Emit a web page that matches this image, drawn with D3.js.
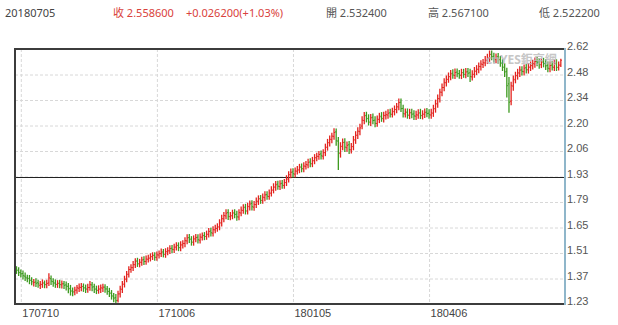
<!DOCTYPE html>
<html>
<head>
<meta charset="utf-8">
<script src="https://cdn.jsdelivr.net/npm/d3@7/dist/d3.min.js"></script>
<style>
  html, body { margin: 0; padding: 0; background: #fff; }
  svg { display: block; font-family: "Noto Sans", "Noto Sans CJK TC", sans-serif; }
</style>
</head>
<body>
<svg id="chart" width="618" height="325"></svg>
<script>
// header quote for the last day
const quoteDate = "20180705";
const quoteClose = "收 2.558600";
const quoteChange = "+0.026200(+1.03%)";
const quoteOpen = "開 2.532400";
const quoteHigh = "高 2.567100";
const quoteLow = "低 2.522200";

// x axis: bar index where each date label sits
const xTickIndex = [2, 65, 128, 191];
const xTickLabels = ["170710", "171006", "180105", "180406"];

// y axis
const yTickValues = [1.23, 1.369, 1.508, 1.647, 1.786, 1.925, 2.064, 2.203, 2.342, 2.481, 2.62];
const yTickLabels = ["1.23", "1.37", "1.51", "1.65", "1.79", "1.93", "2.06", "2.20", "2.34", "2.48", "2.62"];
const refLevel = 1.925;

// daily OHLC
const opens = [
  1.420, 1.413, 1.400, 1.396, 1.382, 1.372, 1.370, 1.358, 1.345, 1.350,
  1.346, 1.332, 1.336, 1.344, 1.335, 1.345, 1.368, 1.352, 1.344, 1.336,
  1.344, 1.334, 1.340, 1.334, 1.326, 1.315, 1.302, 1.296, 1.306, 1.316,
  1.320, 1.326, 1.318, 1.310, 1.320, 1.334, 1.324, 1.312, 1.304, 1.310,
  1.316, 1.322, 1.312, 1.298, 1.290, 1.270, 1.265, 1.250, 1.285, 1.310,
  1.338, 1.366, 1.392, 1.418, 1.428, 1.444, 1.465, 1.448, 1.456, 1.472,
  1.462, 1.474, 1.480, 1.488, 1.496, 1.484, 1.497, 1.504, 1.514, 1.500,
  1.515, 1.520, 1.534, 1.526, 1.540, 1.550, 1.536, 1.552, 1.560, 1.574,
  1.592, 1.584, 1.566, 1.584, 1.594, 1.578, 1.594, 1.604, 1.598, 1.610,
  1.628, 1.616, 1.634, 1.642, 1.650, 1.672, 1.694, 1.710, 1.728, 1.706,
  1.710, 1.728, 1.720, 1.704, 1.726, 1.740, 1.758, 1.736, 1.760, 1.778,
  1.758, 1.772, 1.790, 1.805, 1.794, 1.810, 1.826, 1.816, 1.834, 1.850,
  1.866, 1.884, 1.870, 1.888, 1.876, 1.892, 1.910, 1.934, 1.950, 1.938,
  1.954, 1.960, 1.978, 1.966, 1.980, 1.988, 2.004, 1.994, 2.010, 2.026,
  2.034, 2.048, 2.036, 2.055, 2.084, 2.108, 2.126, 2.144, 2.168, 2.118,
  2.050, 2.088, 2.112, 2.082, 2.098, 2.070, 2.088, 2.124, 2.150, 2.170,
  2.200, 2.230, 2.258, 2.242, 2.220, 2.248, 2.232, 2.214, 2.236, 2.254,
  2.240, 2.256, 2.260, 2.272, 2.264, 2.278, 2.290, 2.304, 2.330, 2.296,
  2.266, 2.276, 2.258, 2.274, 2.266, 2.254, 2.260, 2.272, 2.256, 2.264,
  2.276, 2.270, 2.260, 2.270, 2.294, 2.320, 2.348, 2.384, 2.410, 2.436,
  2.454, 2.468, 2.488, 2.476, 2.494, 2.486, 2.476, 2.492, 2.480, 2.496,
  2.490, 2.468, 2.482, 2.498, 2.508, 2.524, 2.536, 2.544, 2.558, 2.570,
  2.592, 2.580, 2.562, 2.578, 2.562, 2.544, 2.522, 2.498, 2.430, 2.335,
  2.418, 2.452, 2.474, 2.488, 2.506, 2.496, 2.518, 2.506, 2.520, 2.528,
  2.538, 2.554, 2.548, 2.534, 2.550, 2.542, 2.530, 2.512, 2.532, 2.520,
  2.542, 2.520, 2.5324
];
const highs = [
  1.436, 1.430, 1.418, 1.412, 1.402, 1.390, 1.388, 1.376, 1.366, 1.370,
  1.362, 1.356, 1.364, 1.358, 1.362, 1.398, 1.386, 1.370, 1.364, 1.360,
  1.362, 1.358, 1.356, 1.352, 1.344, 1.334, 1.320, 1.324, 1.334, 1.342,
  1.344, 1.342, 1.336, 1.340, 1.356, 1.350, 1.340, 1.330, 1.332, 1.336,
  1.340, 1.338, 1.328, 1.318, 1.306, 1.290, 1.284, 1.302, 1.330, 1.356,
  1.384, 1.410, 1.436, 1.446, 1.464, 1.480, 1.482, 1.476, 1.488, 1.490,
  1.494, 1.498, 1.506, 1.512, 1.512, 1.516, 1.522, 1.532, 1.530, 1.534,
  1.540, 1.550, 1.552, 1.558, 1.566, 1.566, 1.572, 1.578, 1.594, 1.610,
  1.612, 1.600, 1.604, 1.612, 1.610, 1.614, 1.620, 1.622, 1.630, 1.644,
  1.646, 1.654, 1.662, 1.670, 1.692, 1.716, 1.732, 1.746, 1.746, 1.732,
  1.744, 1.746, 1.738, 1.746, 1.762, 1.774, 1.776, 1.782, 1.794, 1.796,
  1.792, 1.810, 1.822, 1.824, 1.832, 1.844, 1.844, 1.854, 1.872, 1.888,
  1.900, 1.902, 1.904, 1.906, 1.912, 1.932, 1.954, 1.968, 1.970, 1.974,
  1.982, 1.994, 1.996, 2.002, 2.010, 2.022, 2.024, 2.032, 2.047, 2.054,
  2.064, 2.067, 2.074, 2.104, 2.130, 2.148, 2.164, 2.188, 2.186, 2.140,
  2.112, 2.132, 2.134, 2.116, 2.118, 2.108, 2.146, 2.172, 2.194, 2.212,
  2.254, 2.276, 2.278, 2.264, 2.266, 2.268, 2.254, 2.258, 2.272, 2.276,
  2.278, 2.284, 2.292, 2.294, 2.300, 2.312, 2.326, 2.350, 2.350, 2.316,
  2.296, 2.296, 2.294, 2.294, 2.286, 2.284, 2.292, 2.294, 2.286, 2.296,
  2.298, 2.292, 2.294, 2.316, 2.344, 2.372, 2.404, 2.432, 2.460, 2.476,
  2.492, 2.506, 2.510, 2.514, 2.514, 2.506, 2.512, 2.512, 2.516, 2.516,
  2.512, 2.504, 2.522, 2.532, 2.546, 2.558, 2.566, 2.582, 2.594, 2.612,
  2.612, 2.600, 2.596, 2.598, 2.582, 2.564, 2.542, 2.518, 2.468, 2.442,
  2.476, 2.496, 2.512, 2.526, 2.526, 2.536, 2.538, 2.544, 2.552, 2.562,
  2.574, 2.576, 2.568, 2.568, 2.572, 2.564, 2.552, 2.552, 2.554, 2.562,
  2.564, 2.552, 2.5671
];
const lows = [
  1.394, 1.382, 1.374, 1.364, 1.356, 1.348, 1.338, 1.332, 1.326, 1.322,
  1.318, 1.312, 1.318, 1.316, 1.316, 1.328, 1.334, 1.324, 1.318, 1.318,
  1.316, 1.314, 1.312, 1.304, 1.288, 1.276, 1.272, 1.278, 1.286, 1.296,
  1.300, 1.296, 1.290, 1.292, 1.302, 1.300, 1.290, 1.284, 1.286, 1.290,
  1.296, 1.292, 1.280, 1.268, 1.254, 1.240, 1.232, 1.238, 1.266, 1.290,
  1.320, 1.348, 1.374, 1.400, 1.410, 1.426, 1.432, 1.430, 1.438, 1.443,
  1.444, 1.456, 1.462, 1.470, 1.466, 1.466, 1.478, 1.486, 1.484, 1.482,
  1.496, 1.502, 1.508, 1.508, 1.522, 1.518, 1.518, 1.533, 1.540, 1.556,
  1.563, 1.548, 1.548, 1.566, 1.560, 1.560, 1.576, 1.578, 1.580, 1.592,
  1.598, 1.598, 1.616, 1.624, 1.632, 1.653, 1.676, 1.692, 1.688, 1.686,
  1.692, 1.698, 1.684, 1.686, 1.708, 1.722, 1.718, 1.718, 1.740, 1.740,
  1.738, 1.753, 1.770, 1.776, 1.776, 1.790, 1.798, 1.798, 1.816, 1.833,
  1.848, 1.853, 1.852, 1.858, 1.858, 1.873, 1.892, 1.916, 1.920, 1.920,
  1.936, 1.943, 1.948, 1.948, 1.963, 1.970, 1.976, 1.976, 1.992, 2.008,
  2.016, 2.018, 2.018, 2.036, 2.066, 2.088, 2.106, 2.126, 2.093, 1.960,
  2.028, 2.068, 2.058, 2.060, 2.048, 2.050, 2.068, 2.103, 2.130, 2.150,
  2.183, 2.210, 2.220, 2.203, 2.200, 2.210, 2.193, 2.196, 2.216, 2.223,
  2.220, 2.236, 2.240, 2.246, 2.246, 2.258, 2.270, 2.286, 2.276, 2.246,
  2.246, 2.240, 2.238, 2.243, 2.233, 2.233, 2.240, 2.238, 2.236, 2.244,
  2.248, 2.240, 2.240, 2.250, 2.273, 2.300, 2.328, 2.363, 2.390, 2.416,
  2.436, 2.450, 2.458, 2.456, 2.466, 2.458, 2.456, 2.463, 2.460, 2.468,
  2.440, 2.448, 2.463, 2.478, 2.488, 2.503, 2.516, 2.526, 2.538, 2.550,
  2.558, 2.546, 2.543, 2.540, 2.523, 2.500, 2.468, 2.355, 2.272, 2.313,
  2.393, 2.433, 2.453, 2.468, 2.476, 2.476, 2.486, 2.486, 2.500, 2.508,
  2.518, 2.526, 2.513, 2.516, 2.520, 2.506, 2.493, 2.493, 2.503, 2.500,
  2.500, 2.503, 2.5222
];
const closes = [
  1.415, 1.402, 1.395, 1.384, 1.376, 1.368, 1.360, 1.352, 1.348, 1.343,
  1.340, 1.338, 1.345, 1.336, 1.342, 1.372, 1.355, 1.345, 1.338, 1.342,
  1.336, 1.340, 1.332, 1.328, 1.312, 1.300, 1.296, 1.305, 1.318, 1.322,
  1.325, 1.318, 1.312, 1.320, 1.335, 1.322, 1.310, 1.305, 1.312, 1.318,
  1.322, 1.312, 1.300, 1.288, 1.275, 1.262, 1.248, 1.285, 1.312, 1.338,
  1.365, 1.392, 1.418, 1.428, 1.445, 1.462, 1.450, 1.458, 1.470, 1.462,
  1.475, 1.480, 1.488, 1.495, 1.485, 1.498, 1.505, 1.512, 1.502, 1.515,
  1.520, 1.532, 1.528, 1.540, 1.548, 1.538, 1.552, 1.560, 1.575, 1.590,
  1.582, 1.568, 1.585, 1.592, 1.580, 1.595, 1.602, 1.598, 1.610, 1.625,
  1.618, 1.635, 1.642, 1.650, 1.672, 1.695, 1.712, 1.725, 1.708, 1.712,
  1.725, 1.718, 1.705, 1.728, 1.742, 1.755, 1.738, 1.762, 1.775, 1.760,
  1.772, 1.790, 1.802, 1.795, 1.812, 1.825, 1.818, 1.835, 1.852, 1.868,
  1.880, 1.872, 1.885, 1.878, 1.892, 1.912, 1.935, 1.948, 1.940, 1.955,
  1.962, 1.975, 1.968, 1.982, 1.990, 2.002, 1.995, 2.012, 2.028, 2.035,
  2.045, 2.038, 2.055, 2.085, 2.110, 2.128, 2.145, 2.165, 2.120, 2.055,
  2.090, 2.110, 2.085, 2.095, 2.072, 2.088, 2.125, 2.150, 2.172, 2.190,
  2.232, 2.255, 2.240, 2.222, 2.245, 2.230, 2.215, 2.238, 2.250, 2.242,
  2.258, 2.262, 2.270, 2.265, 2.280, 2.290, 2.305, 2.328, 2.295, 2.268,
  2.275, 2.260, 2.272, 2.265, 2.255, 2.262, 2.270, 2.258, 2.265, 2.275,
  2.268, 2.262, 2.272, 2.295, 2.322, 2.350, 2.385, 2.410, 2.438, 2.455,
  2.470, 2.485, 2.478, 2.492, 2.485, 2.478, 2.490, 2.482, 2.495, 2.488,
  2.470, 2.482, 2.500, 2.510, 2.525, 2.538, 2.545, 2.560, 2.572, 2.590,
  2.578, 2.565, 2.575, 2.560, 2.542, 2.520, 2.495, 2.420, 2.330, 2.420,
  2.455, 2.475, 2.490, 2.505, 2.498, 2.515, 2.508, 2.522, 2.530, 2.540,
  2.552, 2.545, 2.535, 2.548, 2.540, 2.528, 2.515, 2.530, 2.522, 2.540,
  2.520, 2.5324, 2.5586
];

const upColor = "#e3241f";
const downColor = "#3d9a1f";

// plot frame
const plotLeft = 15, plotRight = 565, plotTop = 49, plotBottom = 304;

let svg = d3.select("#chart");

let x = d3.scaleLinear()
    .domain([0, closes.length - 1])
    .range([16.5, 16.5 + 2.16 * (closes.length - 1)]);

let y = d3.scaleLinear()
    .domain([1.23, 2.62])
    .range([plotBottom, plotTop]);

//header line
let header = svg.append("g").attr("font-size", 11);
header.append("text").attr("x", 5).attr("y", 17).attr("fill", "#444").text(quoteDate);
header.append("text").attr("x", 113).attr("y", 17).attr("fill", "#d9423c").text(quoteClose);
header.append("text").attr("x", 186).attr("y", 17).attr("fill", "#d9423c").text(quoteChange);
header.append("text").attr("x", 326).attr("y", 17).attr("fill", "#555").text(quoteOpen);
header.append("text").attr("x", 428).attr("y", 17).attr("fill", "#555").text(quoteHigh);
header.append("text").attr("x", 539).attr("y", 17).attr("fill", "#555").text(quoteLow);

//horizontal dashed grid
let yGrid = d3.axisRight(y)
    .tickValues(yTickValues.slice(1, -1))
    .tickSize(plotRight - plotLeft)
    .tickFormat("");
svg.append("g")
    .attr("transform", "translate(" + plotLeft + ",0)")
    .call(yGrid)
    .call(g => g.select(".domain").remove())
    .call(g => g.selectAll("line").attr("stroke", "#d8d8d8").attr("stroke-dasharray", "3,2"));

//vertical dashed grid
let xGrid = d3.axisBottom(x)
    .tickValues(xTickIndex)
    .tickSize(plotBottom - plotTop)
    .tickFormat("");
svg.append("g")
    .attr("transform", "translate(0," + plotTop + ")")
    .call(xGrid)
    .call(g => g.select(".domain").remove())
    .call(g => g.selectAll("line").attr("stroke", "#d8d8d8").attr("stroke-dasharray", "3,2"));

//reference line
let refY = Math.round(y(refLevel)) + 0.5;
svg.append("line")
    .attr("x1", plotLeft).attr("x2", plotRight)
    .attr("y1", refY).attr("y2", refY)
    .attr("stroke", "#222").attr("stroke-width", 1);

//ohlc bars
let bars = svg.append("g").selectAll("g")
    .data(closes.map((c, i) => ({ i: i, o: opens[i], h: highs[i], l: lows[i], c: c })))
    .enter().append("g")
    .attr("stroke", d => d.c >= d.o ? upColor : downColor);

bars.append("line")
    .attr("x1", d => x(d.i)).attr("x2", d => x(d.i))
    .attr("y1", d => y(d.h)).attr("y2", d => y(d.l))
    .attr("stroke-width", 1.3);

bars.append("line")
    .attr("x1", d => x(d.i) - 1.1).attr("x2", d => x(d.i))
    .attr("y1", d => y(d.o)).attr("y2", d => y(d.o))
    .attr("stroke-width", 1);

bars.append("line")
    .attr("x1", d => x(d.i)).attr("x2", d => x(d.i) + 1.1)
    .attr("y1", d => y(d.c)).attr("y2", d => y(d.c))
    .attr("stroke-width", 1);

//watermark
svg.append("text")
    .attr("x", 486).attr("y", 64)
    .attr("font-size", 12).attr("font-weight", "bold")
    .attr("fill", "#b8b8b8").attr("opacity", 0.8)
    .text("cnYES鉅亨網");

//frame
svg.append("path")
    .attr("d", "M" + plotRight + "," + plotTop + "H" + plotLeft + "V" + plotBottom + "H" + plotRight)
    .attr("fill", "none").attr("stroke", "#3c3c3c").attr("stroke-width", 2);
svg.append("line")
    .attr("x1", plotRight).attr("x2", plotRight).attr("y1", plotTop - 1).attr("y2", plotBottom + 1)
    .attr("stroke", "#8fb6ca").attr("stroke-width", 2);

//y labels
let yAxis = d3.axisRight(y)
    .tickValues(yTickValues)
    .tickSize(0)
    .tickPadding(2)
    .tickFormat((d, i) => yTickLabels[i]);
svg.append("g")
    .attr("transform", "translate(" + plotRight + ",0)")
    .call(yAxis)
    .call(g => g.select(".domain").remove())
    .call(g => g.selectAll("text")
        .attr("font-size", 11).attr("font-family", null)
        .attr("fill", "#555").attr("dy", "0.05em"));

//x labels
let xAxis = d3.axisBottom(x)
    .tickValues(xTickIndex)
    .tickSize(0)
    .tickFormat((d, i) => xTickLabels[i]);
svg.append("g")
    .attr("transform", "translate(0," + plotBottom + ")")
    .call(xAxis)
    .call(g => g.select(".domain").remove())
    .call(g => g.selectAll("text")
        .attr("font-size", 11).attr("font-family", null)
        .attr("fill", "#444").attr("text-anchor", "start")
        .attr("x", 1).attr("y", 13).attr("dy", 0));
</script>
</body>
</html>
